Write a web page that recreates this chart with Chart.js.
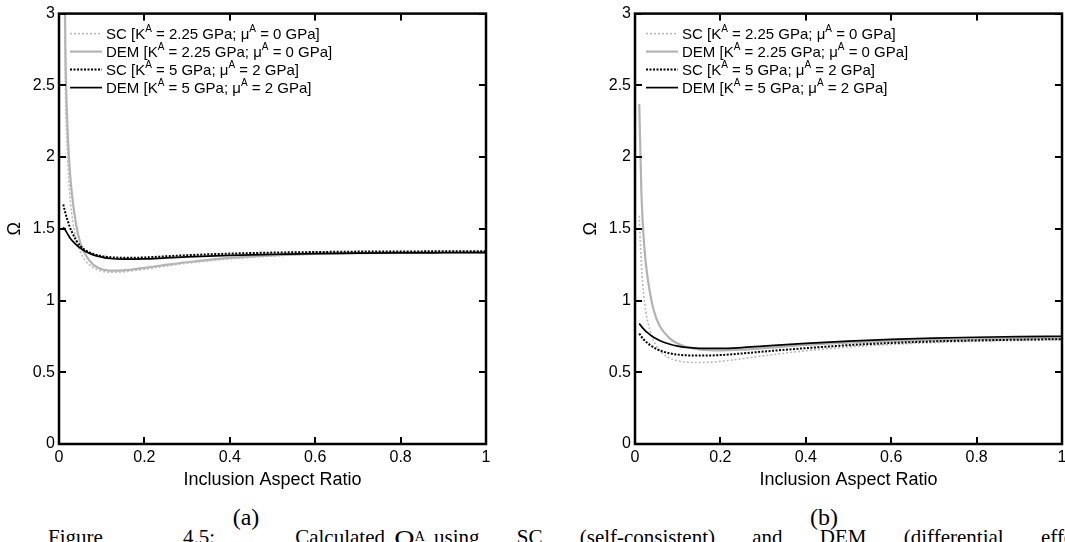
<!DOCTYPE html>
<html>
<head>
<meta charset="utf-8">
<script src="https://cdn.jsdelivr.net/npm/chart.js@4.4.1/dist/chart.umd.min.js"></script>
<style>
    html, body { margin: 0; padding: 0; background: #fff; overflow: hidden; width: 1065px; height: 542px; }
    .panel { position: absolute; top: 0; }
    #panelA { left: 0; }
    #panelB { left: 576px; }
    .sub { position: absolute; top: 503px; width: 100px; text-align: center; font-family: "Liberation Serif", "Times New Roman", serif; font-size: 24px; line-height: 28px; }
    .cap { position: absolute; top: 524px; font-family: "Liberation Serif", "Times New Roman", serif; font-size: 21px; line-height: 26px; white-space: nowrap; }
    .just { text-align: justify; text-align-last: justify; white-space: normal; overflow: hidden; height: 26px; }
</style>
</head>
<body>
<canvas id="panelA" class="panel" width="520" height="500"></canvas>
<canvas id="panelB" class="panel" width="520" height="500"></canvas>
<div class="sub" style="left:196px">(a)</div>
<div class="sub" style="left:774px">(b)</div>
<div class="cap just" style="left:48px; width:337px">Figure 4.5: Calculated</div>
<div class="cap" style="left:394px"><span style="font-size:28px">Ω</span><sup style="font-size:14px">A</sup></div>
<div class="cap just" style="left:434px; width:680px">using SC (self-consistent) and DEM (differential effective</div>
<script>
// inclusion aspect ratio (x)
const aspectRatio = [0.01, 0.015, 0.02, 0.025, 0.03, 0.04, 0.05, 0.06, 0.08, 0.10, 0.12, 0.15, 0.2, 0.25, 0.3, 0.4, 0.5, 0.6, 0.7, 0.8, 0.9, 1.0];

// panel (a)
const scFluidA  = [3.9, 2.5, 2.0, 1.75, 1.6, 1.43, 1.34, 1.285, 1.23, 1.205, 1.198, 1.2, 1.218, 1.24, 1.26, 1.29, 1.31, 1.323, 1.33, 1.335, 1.338, 1.34];
const demFluidA = [4.3, 2.75, 2.2, 1.92, 1.75, 1.53, 1.40, 1.33, 1.25, 1.218, 1.208, 1.21, 1.228, 1.248, 1.267, 1.297, 1.315, 1.325, 1.33, 1.334, 1.335, 1.336];
const scSolidA  = [1.67, 1.61, 1.56, 1.515, 1.48, 1.42, 1.38, 1.355, 1.325, 1.31, 1.302, 1.298, 1.30, 1.308, 1.316, 1.327, 1.334, 1.338, 1.341, 1.342, 1.343, 1.343];
const demSolidA = [1.51, 1.49, 1.465, 1.44, 1.42, 1.39, 1.365, 1.345, 1.318, 1.303, 1.293, 1.288, 1.29, 1.297, 1.304, 1.315, 1.322, 1.327, 1.33, 1.332, 1.333, 1.334];

// panel (b)
const scFluidB  = [1.59, 1.25, 1.05, 0.93, 0.85, 0.745, 0.685, 0.645, 0.6, 0.58, 0.571, 0.568, 0.576, 0.594, 0.614, 0.65, 0.676, 0.694, 0.707, 0.716, 0.722, 0.727];
const demFluidB = [2.37, 1.75, 1.45, 1.27, 1.15, 0.98, 0.875, 0.812, 0.74, 0.7, 0.676, 0.66, 0.653, 0.658, 0.668, 0.69, 0.706, 0.717, 0.725, 0.731, 0.735, 0.739];
const scSolidB  = [0.77, 0.748, 0.73, 0.715, 0.702, 0.68, 0.663, 0.65, 0.633, 0.623, 0.618, 0.616, 0.62, 0.631, 0.644, 0.668, 0.689, 0.704, 0.715, 0.722, 0.727, 0.731];
const demSolidB = [0.84, 0.82, 0.802, 0.787, 0.774, 0.751, 0.733, 0.718, 0.697, 0.682, 0.673, 0.667, 0.666, 0.672, 0.682, 0.701, 0.717, 0.729, 0.738, 0.744, 0.748, 0.751];

const xTickValues = [0, 0.2, 0.4, 0.6, 0.8, 1];
const yTickValues = [0, 0.5, 1, 1.5, 2, 2.5, 3];

// ^ marks a one-letter superscript
const legendLabels = [
    'SC [K^A = 2.25 GPa; μ^A = 0 GPa]',
    'DEM [K^A = 2.25 GPa; μ^A = 0 GPa]',
    'SC [K^A = 5 GPa; μ^A = 2 GPa]',
    'DEM [K^A = 5 GPa; μ^A = 2 GPa]'
];

const SANS = '"Liberation Sans", Arial, Helvetica, sans-serif';

const styles = [
    { borderColor: '#b9b9b9', borderWidth: 1.6, borderDash: [2, 2], order: 1 },
    { borderColor: '#b3b3b3', borderWidth: 2.2, borderDash: [], order: 1 },
    { borderColor: '#000000', borderWidth: 2, borderDash: [2, 1.5], order: 0 },
    { borderColor: '#000000', borderWidth: 1.7, borderDash: [], order: 0 }
];

const drawRich = (ctx, text, x, y, size) => {
    const parts = text.split('^');
    const normal = `${size}px ${SANS}`;
    const small = `${Math.round(size * 0.66)}px ${SANS}`;
    ctx.font = normal;
    ctx.fillText(parts[0], x, y);
    x += ctx.measureText(parts[0]).width;
    for (let i = 1; i < parts.length; i++) {
        const sup = parts[i][0], rest = parts[i].slice(1);
        ctx.font = small;
        ctx.fillText(sup, x, y - size * 0.45);
        x += ctx.measureText(sup).width;
        ctx.font = normal;
        ctx.fillText(rest, x, y);
        x += ctx.measureText(rest).width;
    }
};

// box, inward ticks and the legend, MATLAB style
const matlabFrame = {
    id: 'matlabFrame',
    afterDraw(chart) {
        const { ctx, chartArea: { left, right, top, bottom }, scales: { x, y } } = chart;
        ctx.save();
        ctx.setLineDash([]);
        ctx.fillStyle = '#000';
        // inward ticks as filled rects
        xTickValues.forEach(v => {
            const px = Math.round(x.getPixelForValue(v));
            ctx.fillRect(px - 1, bottom - 7, 2, 7);
            ctx.fillRect(px - 1, top, 2, 7);
        });
        yTickValues.forEach(v => {
            const py = Math.round(y.getPixelForValue(v));
            ctx.fillRect(left, py - 1, 7, 2);
            ctx.fillRect(right - 7, py - 1, 7, 2);
        });
        ctx.strokeStyle = '#000';
        ctx.lineWidth = 2.5;
        ctx.strokeRect(left, top, right - left, bottom - top);

        // legend
        ctx.textBaseline = 'alphabetic';
        chart.data.datasets.forEach((ds, i) => {
            const cy = top + 20 + i * 18;
            ctx.beginPath();
            ctx.strokeStyle = ds.borderColor;
            ctx.lineWidth = ds.borderWidth;
            ctx.setLineDash(ds.borderDash);
            ctx.moveTo(left + 11, cy);
            ctx.lineTo(left + 43, cy);
            ctx.stroke();
            ctx.setLineDash([]);
            drawRich(ctx, ds.label, left + 47, cy + 5, 15);
        });
        ctx.restore();
    }
};

const makeChart = (id, series) => new Chart(document.getElementById(id), {
    type: 'line',
    data: {
        labels: aspectRatio,
        datasets: series.map((vals, i) => ({
            label: legendLabels[i],
            data: vals.map((v, j) => ({ x: aspectRatio[j], y: v })),
            pointRadius: 0,
            fill: false,
            cubicInterpolationMode: 'monotone',
            ...styles[i]
        }))
    },
    options: {
        responsive: false,
        animation: false,
        layout: { padding: { top: 13, right: 34, left: 0, bottom: 0 } },
        plugins: { legend: { display: false }, tooltip: { enabled: false } },
        scales: {
            x: {
                type: 'linear', min: 0, max: 1,
                afterBuildTicks: s => { s.ticks = xTickValues.map(v => ({ value: v })); },
                afterFit: s => { s.height = 56; },
                grid: { display: false, drawTicks: false },
                border: { display: false },
                ticks: { padding: 4, color: '#000', maxRotation: 0, autoSkip: false, font: { size: 16, family: SANS }, callback: v => String(v) },
                title: { display: true, text: 'Inclusion Aspect Ratio', color: '#000', font: { size: 18, family: SANS }, padding: { top: 0, bottom: 9 } }
            },
            y: {
                min: 0, max: 3,
                afterBuildTicks: s => { s.ticks = yTickValues.map(v => ({ value: v })); },
                afterFit: s => { s.width = 59; },
                grid: { display: false, drawTicks: false },
                border: { display: false },
                ticks: { padding: 4, color: '#000', font: { size: 16, family: SANS }, callback: v => String(v) },
                title: { display: true, text: 'Ω', color: '#000', font: { size: 18, family: SANS }, padding: { top: 4, bottom: 0 } }
            }
        }
    },
    plugins: [matlabFrame]
});

makeChart('panelA', [scFluidA, demFluidA, scSolidA, demSolidA]);
makeChart('panelB', [scFluidB, demFluidB, scSolidB, demSolidB]);
</script>
</body>
</html>
